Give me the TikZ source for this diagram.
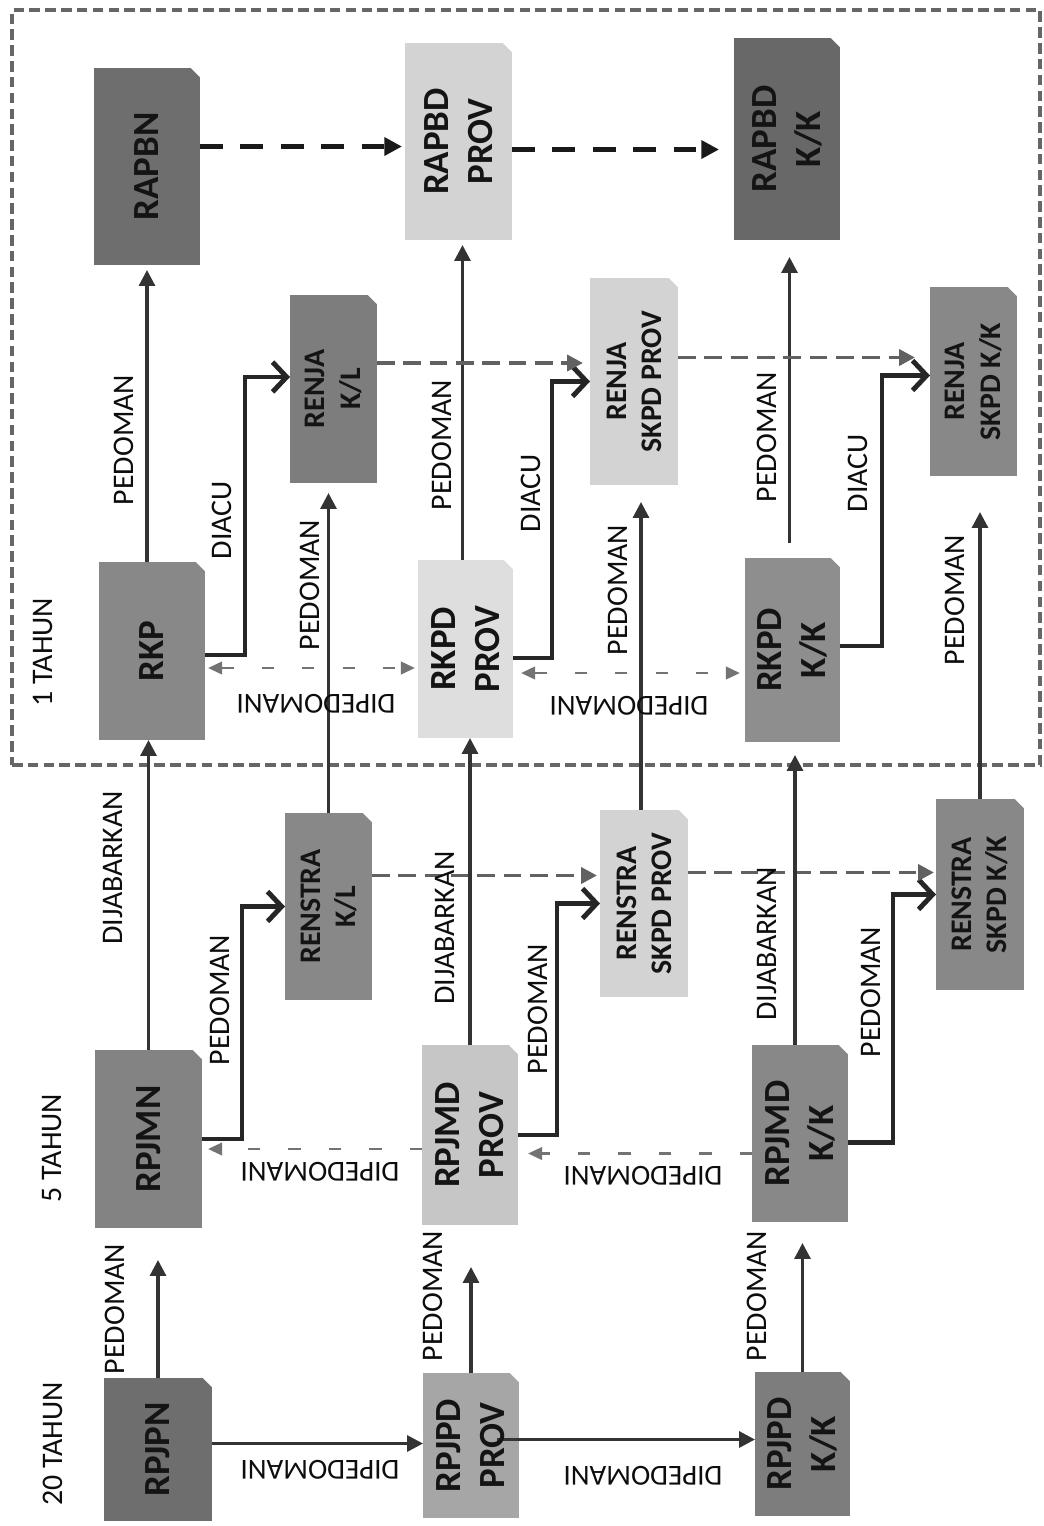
\documentclass[tikz,border=0pt]{standalone}
\usepackage{fontspec}
\setmainfont{Carlito}
\usetikzlibrary{arrows.meta,calc,fit}
\definecolor{gdark}{HTML}{6E6E6E}
\definecolor{gmid}{HTML}{888888}
\definecolor{gmid2}{HTML}{7D7D7D}
\definecolor{glight}{HTML}{D3D3D3}
\definecolor{glight2}{HTML}{C6C6C6}
\definecolor{gpale}{HTML}{DEDEDE}
\definecolor{gpjpd}{HTML}{A6A6A6}
\tikzset{
  box/.style={inner sep=0pt, outer sep=0pt, draw=none,
    path picture={\fill[white] ($(path picture bounding box.north east)+(-9,0)$) -- (path picture bounding box.north east) -- ($(path picture bounding box.north east)+(0,9)$) -- cycle;}},
  ntxt/.style={rotate=90, font=\bfseries\fontsize{21}{25}\selectfont, align=center, inner sep=0pt, text=black!92},
  stxt/.style={rotate=90, font=\bfseries\fontsize{17}{20}\selectfont, align=center, inner sep=0pt, text=black!92},
  lbl/.style={rotate=90, font=\fontsize{17}{20}\selectfont, inner sep=0pt, text=black!95},
  ulbl/.style={rotate=180, font=\fontsize{16.5}{20}\selectfont, inner sep=0pt, text=black!95},
  sarr/.style={draw=black!80, line width=1.8pt, -{Triangle[length=9pt,width=9pt]}},
  elbow/.style={draw=black!85, line width=2.8pt, line join=miter, -{Straight Barb[length=8pt,width=17pt]}},
  gdash/.style={draw=black!55, line width=1.6pt, dash pattern=on 7pt off 16pt, -{Triangle[length=8pt,width=7pt]}},
  gddash/.style={gdash, {Triangle[length=8pt,width=7pt]}-{Triangle[length=8pt,width=7pt]}},
  mdash/.style={draw=black!62, line width=2.2pt, dash pattern=on 10pt off 5pt, -{Triangle[length=9pt,width=9pt]}},
  bdash/.style={draw=black!90, line width=3pt, dash pattern=on 13pt off 10pt, -{Triangle[length=10pt,width=10pt]}},
  frame/.style={draw=black!60, line width=1.8pt, dash pattern=on 6pt off 3pt, inner sep=0pt},
}
\begin{document}
\begin{tikzpicture}[x=0.02cm,y=-0.02cm]
\fill[white] (0,0) rectangle (1044,1526);
\useasboundingbox (0,0) rectangle (1044,1526);

% frame for 1 TAHUN
\node[frame, fit={(12,10)(1040,765)}] (oneyear) {};

% ---- boxes ----
\node[box, fill=gdark, fit={(94,68)(200,265)}] (rapbn) {};
\node[box, fill=glight, fit={(405,43)(512,240)}] (rapbdprov) {};
\node[box, fill=gdark!95!black, fit={(734,38)(840,240)}] (rapbdkk) {};
\node[box, fill=gmid, fit={(99,562)(205,740)}] (rkp) {};
\node[box, fill=gpale, fit={(418,560)(513,738)}] (rkpdprov) {};
\node[box, fill=gmid!95!white, fit={(745,558)(840,742)}] (rkpdkk) {};
\node[box, fill=gmid2, fit={(290,295)(377,483)}] (renjakl) {};
\node[box, fill=glight, fit={(590,278)(678,485)}] (renjaskpdprov) {};
\node[box, fill=gmid, fit={(930,287)(1017,476)}] (renjaskpdkk) {};
\node[box, fill=gmid, fit={(285,813)(372,1000)}] (renstrakl) {};
\node[box, fill=glight, fit={(600,810)(688,997)}] (renstraskpdprov) {};
\node[box, fill=gmid, fit={(936,799)(1024,990)}] (renstraskpdkk) {};
\node[box, fill=gmid2!95!white, fit={(95,1050)(202,1228)}] (rpjmn) {};
\node[box, fill=glight2, fit={(422,1045)(518,1225)}] (rpjmdprov) {};
\node[box, fill=gmid, fit={(752,1045)(848,1222)}] (rpjmdkk) {};
\node[box, fill=gdark, fit={(104,1378)(212,1521)}] (rpjpn) {};
\node[box, fill=gpjpd, fit={(423,1373)(519,1518)}] (rpjpdprov) {};
\node[box, fill=gmid2, fit={(755,1372)(850,1516)}] (rpjpdkk) {};

% ---- connectors: 20 tahun ----
\draw[sarr, shorten >=0.64cm] (rpjpn.north) -- (rpjpn.north |- rpjmn.south);
\draw[sarr, shorten >=0.84cm] (rpjpdprov.north) -- (rpjpdprov.north |- rpjmdprov.south);
\draw[sarr, shorten >=0.42cm] (rpjpdkk.north) -- (rpjpdkk.north |- rpjmdkk.south);
\draw[sarr] ($(rpjpn.east)+(0,-6)$) -- ($(rpjpn.east -| rpjpdprov.west)+(0,-6)$);
\draw[sarr] ($(rpjpdprov.east)+(-22,-6)$) -- ($(rpjpdprov.east -| rpjpdkk.west)+(0,-6)$);

% ---- connectors: 5 tahun ----
\draw[elbow] (rpjmn.east) -- ++(40,0) |- (renstrakl.west);
\draw[sarr] (rpjmn.north) -- (rpjmn.north |- rkp.south);
\draw[gdash, shorten >=0.12cm] ($(rpjmdprov.west)+(0,14)$) -- ($(rpjmdprov.west -| rpjmn.east)+(0,14)$);
\draw[mdash, shorten >=0.06cm] ($(renstrakl.east)+(0,-31)$) -- ($(renstrakl.east -| renstraskpdprov.west)+(0,-31)$);
\draw[sarr, shorten >=0.2cm] (renstrakl.north) -- (renstrakl.north |- renjakl.south);
\draw[sarr] (rpjmdprov.north) -- (rpjmdprov.north |- rkpdprov.south);
\draw[elbow] (rpjmdprov.east) -- ++(39,0) |- (renstraskpdprov.west);
\draw[gdash, shorten >=0.2cm] ($(rpjmdkk.west)+(0,20)$) -- ($(rpjmdkk.west -| rpjmdprov.east)+(0,20)$);
\draw[elbow] ($(rpjmdkk.east)+(0,9)$) -- ++(45,0) |- (renstraskpdkk.west);
\draw[mdash, shorten >=0.04cm] ($(renstraskpdprov.east)+(0,-31)$) -- ($(renstraskpdprov.east -| renstraskpdkk.west)+(0,-31)$);
\draw[sarr, shorten >=0.34cm] ($(renstraskpdprov.north)+(-3,0)$) -- ($(renstraskpdprov.north |- renjaskpdprov.south)+(-3,0)$);
\draw[sarr, shorten >=0.26cm] ($(rpjmdkk.north)+(-5,0)$) -- ($(rpjmdkk.north |- rkpdkk.south)+(-5,0)$);
\draw[sarr, shorten >=0.72cm] (renstraskpdkk.north) -- (renstraskpdkk.north |- renjaskpdkk.south);

% ---- connectors: 1 tahun ----
\draw[gddash, shorten <=0.06cm, shorten >=0.06cm] ($(rkp.east)+(0,17)$) -- ($(rkp.east -| rkpdprov.west)+(0,17)$);
\draw[gddash, shorten <=0.16cm, shorten >=0.1cm] ($(rkpdprov.east)+(0,24)$) -- ($(rkpdprov.east -| rkpdkk.west)+(0,24)$);
\draw[elbow] ($(rkp.east)+(0,4)$) -- ++(40,0) |- ($(renjakl.west)+(0,-12)$);
\draw[sarr, shorten >=0.1cm] ($(rkp.north)+(-5,0)$) -- ($(rkp.north |- rapbn.south)+(-5,0)$);
\draw[elbow] ($(rkpdprov.east)+(0,9)$) -- ++(39,0) |- (renjaskpdprov.west);
\draw[sarr, shorten >=0.1cm] ($(rkpdprov.north)+(-3,0)$) -- ($(rkpdprov.north |- rapbdprov.south)+(-3,0)$);
\draw[elbow] ($(rkpdkk.east)+(0,-4)$) -- ++(42,0) |- ($(renjaskpdkk.west)+(0,-6)$);
\draw[sarr, shorten <=0.3cm, shorten >=0.34cm] ($(rkpdkk.north)+(-3,0)$) -- ($(rkpdkk.north |- rapbdkk.south)+(-3,0)$);
\draw[mdash, shorten >=0.14cm] ($(renjakl.east)+(0,-26)$) -- ($(renjakl.east -| renjaskpdprov.west)+(0,-26)$);
\draw[mdash, shorten >=0.3cm] ($(renjaskpdprov.east)+(0,-24)$) -- ($(renjaskpdprov.east -| renjaskpdkk.west)+(0,-24)$);
\draw[bdash, shorten >=0.06cm] ($(rapbn.east)+(0,-20)$) -- ($(rapbn.east -| rapbdprov.west)+(0,-20)$);
\draw[bdash, shorten >=0.3cm] ($(rapbdprov.east)+(0,8)$) -- ($(rapbdprov.east -| rapbdkk.west)+(0,8)$);

% ---- box texts ----
\node[ntxt] (rapbn-t) at (rapbn) {RAPBN};
\node[ntxt] (rapbdprov-t) at (rapbdprov) {RAPBD\\PROV};
\node[ntxt] (rapbdkk-t) at (rapbdkk) {RAPBD\\K/K};
\node[ntxt] (rkp-t) at (rkp) {RKP};
\node[ntxt] (rkpdprov-t) at (rkpdprov) {RKPD\\PROV};
\node[ntxt] (rkpdkk-t) at (rkpdkk) {RKPD\\K/K};
\node[stxt] (renjakl-t) at (renjakl) {RENJA\\K/L};
\node[stxt] (renjaskpdprov-t) at (renjaskpdprov) {RENJA\\SKPD PROV};
\node[stxt] (renjaskpdkk-t) at (renjaskpdkk) {RENJA\\SKPD K/K};
\node[stxt] (renstrakl-t) at (renstrakl) {RENSTRA\\K/L};
\node[stxt] (renstraskpdprov-t) at (renstraskpdprov) {RENSTRA\\SKPD PROV};
\node[stxt] (renstraskpdkk-t) at (renstraskpdkk) {RENSTRA\\SKPD K/K};
\node[ntxt] (rpjmn-t) at (rpjmn) {RPJMN};
\node[ntxt] (rpjmdprov-t) at (rpjmdprov) {RPJMD\\PROV};
\node[ntxt] (rpjmdkk-t) at (rpjmdkk) {RPJMD\\K/K};
\node[ntxt] (rpjpn-t) at (rpjpn) {RPJPN};
\node[ntxt] (rpjpdprov-t) at (rpjpdprov) {RPJPD\\PROV};
\node[ntxt] (rpjpdkk-t) at (rpjpdkk) {RPJPD\\K/K};

% ---- period labels ----
\node[lbl] (t20) at (53,1444) {20 TAHUN};
\node[lbl] (t5) at (52,1148) {5 TAHUN};
\node[lbl] (t1) at (43,652) {1 TAHUN};

% ---- connector labels ----
\node[lbl] (l1) at (115,1309) {PEDOMAN};
\node[lbl] (l2) at (433,1296) {PEDOMAN};
\node[lbl] (l3) at (757,1296) {PEDOMAN};
\node[ulbl] (l4) at (320,1470) {DIPEDOMANI};
\node[ulbl] (l5) at (643,1476) {DIPEDOMANI};
\node[lbl] (l6) at (220,1000) {PEDOMAN};
\node[lbl] (l7) at (113,868) {DIJABARKAN};
\node[ulbl] (l8) at (320,1172) {DIPEDOMANI};
\node[lbl] (l9) at (310,585) {PEDOMAN};
\node[lbl] (l10) at (445,928) {DIJABARKAN};
\node[lbl] (l11) at (538,1009) {PEDOMAN};
\node[ulbl] (l12) at (643,1176) {DIPEDOMANI};
\node[lbl] (l13) at (618,590) {PEDOMAN};
\node[lbl] (l14) at (767,944) {DIJABARKAN};
\node[lbl] (l15) at (871,992) {PEDOMAN};
\node[lbl] (l16) at (955,600) {PEDOMAN};
\node[ulbl] (l17) at (316,704) {DIPEDOMANI};
\node[ulbl] (l18) at (629,706) {DIPEDOMANI};
\node[lbl] (l19) at (222,520) {DIACU};
\node[lbl] (l20) at (124,440) {PEDOMAN};
\node[lbl] (l21) at (531,493) {DIACU};
\node[lbl] (l22) at (442,445) {PEDOMAN};
\node[lbl] (l23) at (858,473) {DIACU};
\node[lbl] (l24) at (767,437) {PEDOMAN};
\end{tikzpicture}
\end{document}
